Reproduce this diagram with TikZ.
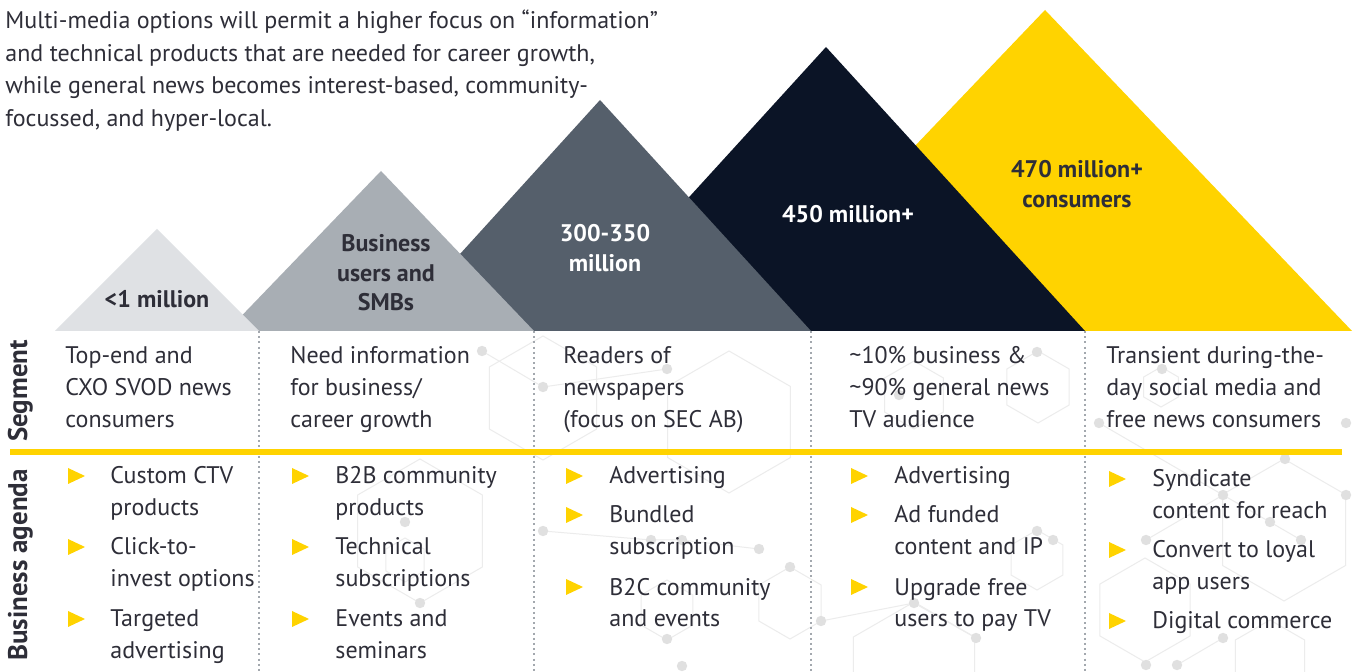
\documentclass[tikz,border=0pt]{standalone}
\usepackage{fontspec}
\setmainfont{PT Sans}
\definecolor{txt}{HTML}{2E2E38}
\definecolor{eyyellow}{HTML}{FFD300}
\definecolor{tlight}{HTML}{DFE1E4}
\definecolor{tmid}{HTML}{A8AEB4}
\definecolor{tslate}{HTML}{555F6B}
\definecolor{tnavy}{HTML}{0B1426}
\definecolor{sepgray}{HTML}{A3A8AE}
\definecolor{hexgray}{HTML}{ECECEC}
\definecolor{dotgray}{HTML}{E0E0E0}
\newcommand\hexcell[3]{\draw[hexline] (#1,#2) +(90:#3) -- +(150:#3) -- +(210:#3) -- +(270:#3) -- +(330:#3) -- +(30:#3) -- cycle;}
\newcommand\bulmark[2]{\fill[eyyellow] (#1,#2-8) -- (#1+17,#2) -- (#1,#2+8) -- cycle;}
\begin{document}
\begin{tikzpicture}[x=0.5pt,y=-0.5pt,
  hexline/.style={draw=hexgray,line width=0.5pt},
  body/.style={anchor=base west,inner sep=0pt,align=left,text=txt,font=\fontsize{12}{16}\selectfont},
  intro/.style={anchor=base west,inner sep=0pt,align=left,text=txt,font=\fontsize{12}{16.25}\selectfont},
  trilab/.style={anchor=base,inner sep=0pt,align=center,font=\bfseries\fontsize{12}{14.75}\selectfont},
  rowlab/.style={anchor=base,inner sep=0pt,rotate=90,text=txt,font=\bfseries\fontsize{13.5}{16}\selectfont},
  colsep/.style={draw=sepgray,line width=1pt,dash pattern=on 1pt off 1.6pt},
  rule/.style={draw=eyyellow,line width=2.6pt}]
\useasboundingbox (0,0) rectangle (1359,672);
\fill[white] (0,0) rectangle (1359,672);
% background hexagon pattern
\begin{scope}
\clip (0,333) rectangle (1359,672);
\hexcell{420}{531}{72}
\hexcell{405}{560}{22}
\hexcell{543}{398}{62}
\hexcell{729}{422}{71}
\hexcell{790}{603}{36}
\hexcell{667}{610}{30}
\hexcell{914}{395}{34}
\hexcell{1038}{387}{36}
\hexcell{1161}{387}{20}
\hexcell{1284}{530}{71}
\hexcell{1037}{560}{30}
\hexcell{1145}{610}{52}
\hexcell{914}{672}{70}
\hexcell{1270}{660}{40}
\draw[hexline] (482,351) -- (543,387) -- (667,369);
\draw[hexline] (543,531) -- (651,540) -- (682,540) -- (759,549);
\draw[hexline] (821,621) -- (914,603) -- (976,638);
\draw[hexline] (1099,423) -- (1223,495) -- (1270,522) -- (1301,540);
\draw[hexline] (1146,540) -- (1223,495);
\draw[hexline] (1223,638) -- (1177,665);
\foreach \p in {(482,351),(543,387),(667,369),(543,531),(405,522),(420,603),(651,540),(682,540),(759,549),(790,567),(821,621),(667,639),(682,666),(1037,352),(899,395),(1162,369),(1099,423),(1346,423),(1285,459),(1223,495),(1346,495),(1270,522),(1146,540),(1301,540),(1037,531),(1053,540),(914,603),(976,638),(1223,638),(1146,665),(1177,665)}
  \fill[dotgray] \p circle[radius=2.6pt];
\end{scope}
% triangles (right ones behind)
\coordinate (b5l) at (738,331); \coordinate (p5) at (1045,10); \coordinate (b5r) at (1352,331);
\coordinate (b4l) at (567,331); \coordinate (p4) at (826,47); \coordinate (b4r) at (1085,331);
\coordinate (b3l) at (390,331); \coordinate (p3) at (600,100); \coordinate (b3r) at (811,331);
\coordinate (b2l) at (227,331); \coordinate (p2) at (381,171); \coordinate (b2r) at (534,331);
\coordinate (b1l) at (55,331); \coordinate (p1) at (157,229); \coordinate (b1r) at (259,331);
\fill[eyyellow] (b5l) -- (p5) -- (b5r) -- cycle;
\fill[tnavy] (b4l) -- (p4) -- (b4r) -- cycle;
\fill[tslate] (b3l) -- (p3) -- (b3r) -- cycle;
\fill[tmid] (b2l) -- (p2) -- (b2r) -- cycle;
\fill[tlight] (b1l) -- (p1) -- (b1r) -- cycle;
% (multi-line nodes: base anchor = last line)
\node[trilab,text=txt] (t1) at (157,308) {<1 million};
\node[trilab,text=txt] (t2) at (386,311) {Business\\users and\\SMBs};
\node[trilab,text=white] (t3) at (605,271.5) {300-350\\million};
\node[trilab,text=white] (t4) at (848,223) {450 million+};
\node[trilab,text=txt] (t5) at (1077,207.5) {470 million+\\consumers};
% intro text
\node[intro] (intro) at (5,126.5) {Multi-media options will permit a higher focus on “information”\\and technical products that are needed for career growth,\\while general news becomes interest-based, community-\\focussed, and hyper-local.};
% separators
\coordinate (s1) at (259,672); \coordinate (s2) at (534,672); \coordinate (s3) at (811,672); \coordinate (s4) at (1085,672);
\draw[colsep] (b1r) -- (s1);
\draw[colsep] (b2r) -- (s2);
\draw[colsep] (b3r) -- (s3);
\draw[colsep] (b4r) -- (s4);
\coordinate (r1) at (10,452); \coordinate (r2) at (1342,452);
\draw[rule] (r1) -- (r2);
% row labels
\node[rowlab] (lseg) at (27,391) {Segment};
\node[rowlab] (lbiz) at (27,565) {Business agenda};
% segment row
\node[body] (seg1) at (65,428) {Top-end and\\CXO SVOD news\\consumers};
\node[body] (seg2) at (290,428) {Need information\\for business/\\career growth};
\node[body] (seg3) at (563,428) {Readers of\\newspapers\\(focus on SEC AB)};
\node[body] (seg4) at (849,428) {\textasciitilde10\% business \&\\\textasciitilde90\% general news\\TV audience};
\node[body] (seg5) at (1106,428) {Transient during-the-\\day social media and\\free news consumers};
% agenda column 1
\bulmark{68}{476}\bulmark{68}{547}\bulmark{68}{619}
\node[body] (a11) at (110,516) {Custom CTV\\products};
\node[body] (a12) at (110,587) {Click-to-\\invest options};
\node[body] (a13) at (110,659) {Targeted\\advertising};
% column 2
\bulmark{292}{476}\bulmark{292}{547}\bulmark{292}{619}
\node[body] (a21) at (335,516) {B2B community\\products};
\node[body] (a22) at (335,587) {Technical\\subscriptions};
\node[body] (a23) at (335,659) {Events and\\seminars};
% column 3
\bulmark{566}{476}\bulmark{566}{515}\bulmark{566}{587}
\node[body] (a31) at (609,484) {Advertising};
\node[body] (a32) at (609,555) {Bundled\\subscription};
\node[body] (a33) at (609,627) {B2C community\\and events};
% column 4
\bulmark{851}{476}\bulmark{851}{515}\bulmark{851}{587}
\node[body] (a41) at (894,484) {Advertising};
\node[body] (a42) at (894,555) {Ad funded\\content and IP};
\node[body] (a43) at (894,627) {Upgrade free\\users to pay TV};
% column 5
\bulmark{1109}{479}\bulmark{1109}{550}\bulmark{1109}{621}
\node[body] (a51) at (1152,519) {Syndicate\\content for reach};
\node[body] (a52) at (1152,590) {Convert to loyal\\app users};
\node[body] (a53) at (1152,629) {Digital commerce};
\end{tikzpicture}
\end{document}
